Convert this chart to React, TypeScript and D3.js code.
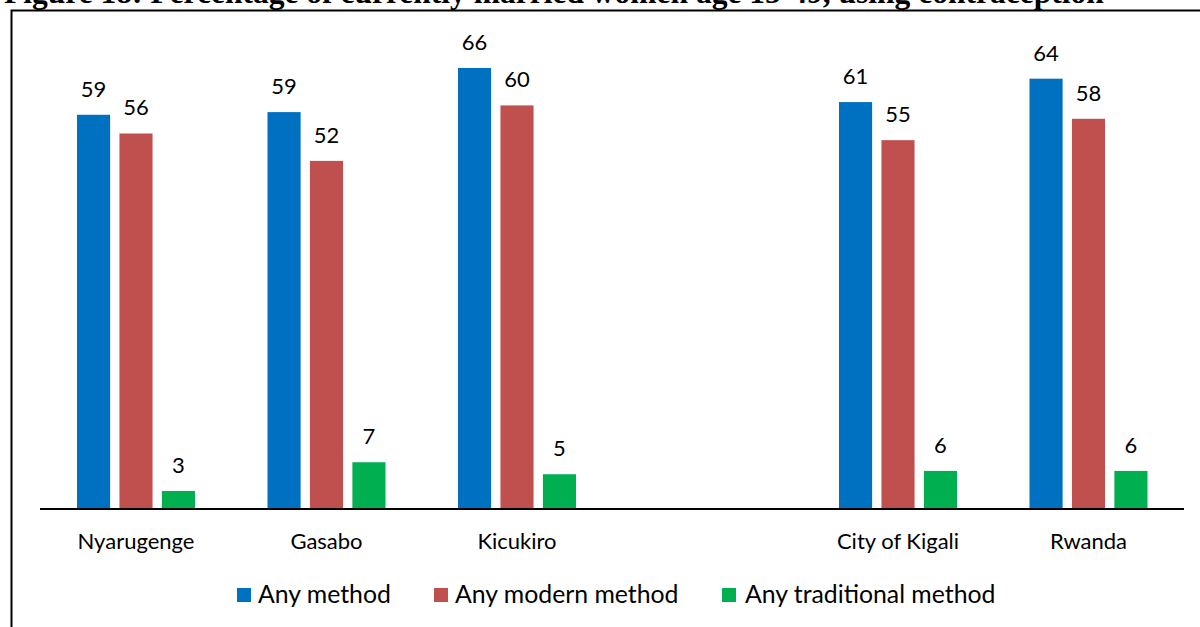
import React from "react";
import * as d3 from "d3";

const categories = ["Nyarugenge", "Gasabo", "Kicukiro", "", "City of Kigali", "Rwanda"];
const seriesNames = ["Any method", "Any modern method", "Any traditional method"];
const anyMethod = [59.0, 59.4, 66.0, null, 60.9, 64.4];
const modernMethod = [56.2, 52.1, 60.4, null, 55.2, 58.4];
const traditionalMethod = [2.7, 7.0, 5.2, null, 5.7, 5.7];
const colors = ["#0070C0", "#C0504D", "#00B050"];
const title = "Figure 18: Percentage of currently married women age 15-49, using contraception";

const W = 1200;
const H = 627;
const FONT = "Lato, 'Open Sans', sans-serif";

export default function App() {
  const series = [anyMethod, modernMethod, traditionalMethod];
  const keys = categories.map((c, i) => (c === "" ? `__gap${i}` : c));
  const x = d3.scaleBand<string>().domain(keys).range([40.75, 1183.75]).padding(0);
  const inner = d3.scaleBand<string>().domain(seriesNames).range([-59, 59]).paddingInner(0.22);
  const y = d3.scaleLinear().domain([0, 66]).range([509, 68]);
  const fmt = d3.format(".0f");

  const legendItems = [
    { sx: 237, tx: 258 },
    { sx: 434, tx: 455 },
    { sx: 722, tx: 745 },
  ];

  return (
    <svg width={W} height={H} style={{ position: "absolute", left: 0, top: 0, display: "block", background: "#fff" }}>
      <rect x={0} y={0} width={W} height={H} fill="#fff" />
      <text x={4} y={3} fontFamily="'Liberation Serif', 'Times New Roman', serif" fontWeight="bold" fontSize={31.5} fill="#000">
        {title}
      </text>
      <path d={`M11.5,${H} V10.5 H${W}`} fill="none" stroke="#000" strokeWidth={2} />
      {keys.map((k, ci) =>
        series.map((vals, si) => {
          const v = vals[ci];
          if (v == null) return null;
          const cx = (x(k) as number) + x.bandwidth() / 2;
          const bx = cx + (inner(seriesNames[si]) as number);
          return (
            <g key={`${k}-${si}`}>
              <rect x={bx} y={y(v)} width={inner.bandwidth()} height={y(0) - y(v)} fill={colors[si]} />
              <text
                x={bx + inner.bandwidth() / 2}
                y={y(v) - 18}
                textAnchor="middle"
                fontFamily={FONT}
                fontSize={22}
                fill="#000"
              >
                {fmt(v)}
              </text>
            </g>
          );
        })
      )}
      <line x1={40} x2={1184} y1={509} y2={509} stroke="#000" strokeWidth={2} />
      {keys.map((k, ci) =>
        categories[ci] === "" ? null : (
          <text
            key={`lab-${k}`}
            x={(x(k) as number) + x.bandwidth() / 2}
            y={549}
            textAnchor="middle"
            fontFamily={FONT}
            fontSize={22}
            fill="#000"
          >
            {categories[ci]}
          </text>
        )
      )}
      {seriesNames.map((s, i) => (
        <g key={`leg-${s}`}>
          <rect x={legendItems[i].sx} y={588} width={14} height={14} fill={colors[i]} />
          <text x={legendItems[i].tx} y={603} fontFamily={FONT} fontSize={24.8} fill="#000">
            {s}
          </text>
        </g>
      ))}
    </svg>
  );
}
